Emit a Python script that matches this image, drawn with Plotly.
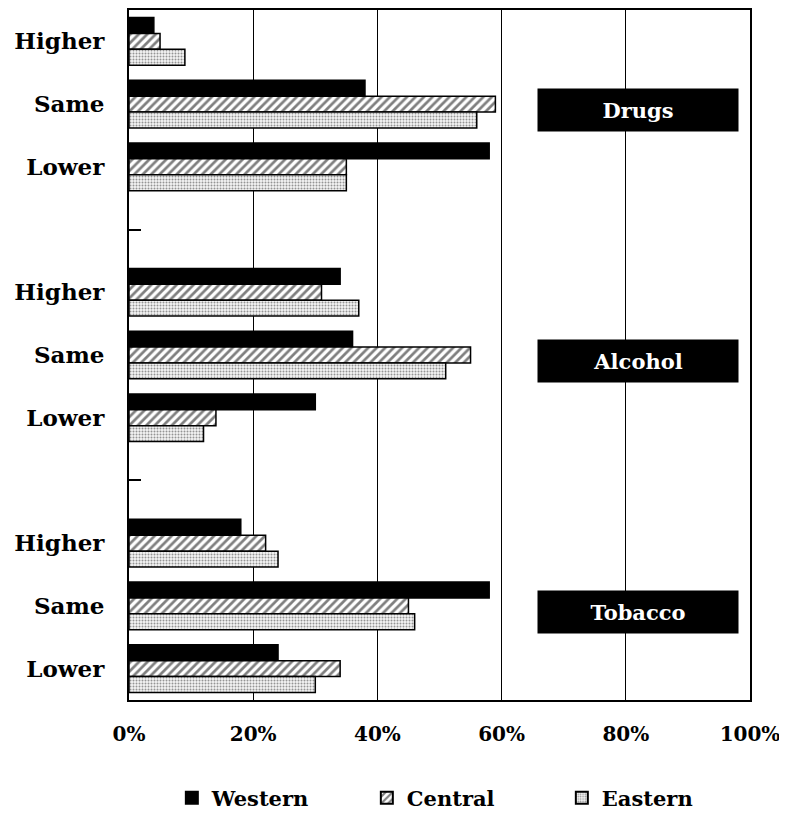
import plotly.graph_objects as go

row_labels = ['Higher', 'Same', 'Lower', '', 'Higher', 'Same', 'Lower', '', 'Higher', 'Same', 'Lower']
substances = ['Drugs', 'Alcohol', 'Tobacco']
# percentages per row (blank rows are None)
western = [4, 38, 58, None, 34, 36, 30, None, 18, 58, 24]
central = [5, 59, 35, None, 31, 55, 14, None, 22, 45, 34]
eastern = [9, 56, 35, None, 37, 51, 12, None, 24, 46, 30]
x_ticks = [0, 20, 40, 60, 80, 100]
x_ticktext = ['0%', '20%', '40%', '60%', '80%', '100%']

FONT = 'DejaVu Serif'
rows = list(range(len(row_labels)))

fig = go.Figure()
fig.add_trace(go.Bar(y=rows, x=western, orientation='h', name='Western',
                     marker=dict(color='black', line=dict(color='black', width=1.5))))
fig.add_trace(go.Bar(y=rows, x=central, orientation='h', name='Central',
                     marker=dict(color='white', line=dict(color='black', width=1.5),
                                 pattern=dict(shape='/', fgcolor='black', bgcolor='white', size=6, solidity=0.45))))
fig.add_trace(go.Bar(y=rows, x=eastern, orientation='h', name='Eastern',
                     marker=dict(color='white', line=dict(color='black', width=1.5),
                                 pattern=dict(shape='.', fgcolor='#333', bgcolor='#f4f4f4', size=3, solidity=0.35))))

# black label boxes on the "Same" rows
for name, row in zip(substances, [1, 5, 9]):
  fig.add_annotation(x=82, y=row, text=name, showarrow=False, xref='x', yref='y',
                     width=198, height=40, bgcolor='black', yshift=-6,
                     font=dict(family=FONT, size=21, color='white', weight='bold'))

fig.update_xaxes(range=[0, 100], tickvals=x_ticks, ticktext=x_ticktext, ticks='',
                 showgrid=True, gridcolor='black', gridwidth=1, zeroline=False,
                 showline=True, linecolor='black', linewidth=2, mirror=True,
                 automargin=False, ticklabelstandoff=15,
                 tickfont=dict(family=FONT, size=20, color='black', weight='bold'))
fig.update_yaxes(range=[10.5, -0.5], tickvals=rows, ticktext=row_labels, ticks='',
                 showgrid=False, zeroline=False, ticklabelstandoff=18,
                 showline=True, linecolor='black', linewidth=2, mirror=True,
                 automargin=False,
                 minor=dict(tickmode='array', tickvals=[3, 7], ticks='inside', ticklen=12,
                            tickcolor='black', tickwidth=2),
                 tickfont=dict(family=FONT, size=23, color='black', weight='bold'))

# the page body adds an 8px margin, so the figure is a bit smaller than the window
fig.update_layout(barmode='group', bargap=0.24, bargroupgap=0,
                  width=779, height=815, plot_bgcolor='white', paper_bgcolor='white',
                  margin=dict(l=121, r=37, t=2, b=123),
                  legend=dict(orientation='h', x=0.54, xanchor='center', y=-0.172, yanchor='bottom',
                              traceorder='normal', itemsizing='constant',
                              entrywidth=150, entrywidthmode='pixels',
                              font=dict(family=FONT, size=21, color='black', weight='bold')))
fig.write_html("out.html")
